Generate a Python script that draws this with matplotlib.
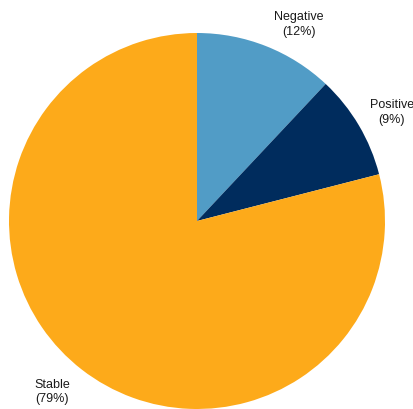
import matplotlib
matplotlib.use("Agg")
import matplotlib.pyplot as plt

categories = ["Negative", "Positive", "Stable"]
shares = [12, 9, 79]
colors = ["#519cc6", "#002c5d", "#fdaa1a"]

fig = plt.figure(figsize=(4.14, 4.09), dpi=100)
# pie centre at (197, 221) px, radius 188 px
ax = fig.add_axes([9 / 414, 0, 376 / 414, 376 / 409])

labels = [f"{c}\n({v}%)" for c, v in zip(categories, shares)]
wedges, texts = ax.pie(
    shares, colors=colors, startangle=90, counterclock=False,
    labels=labels, labeldistance=1.18, radius=1,
    wedgeprops=dict(linewidth=0),
    textprops=dict(fontsize=9, fontfamily="Liberation Sans", color="#1a1a1a"),
    frame=True,
)
ax.set_xlim(-1, 1)
ax.set_ylim(-1, 1)
ax.axis("off")
ax.set_aspect("auto")

# label placement tuned to the reference
label_pos = [(0.543, 1.045), (1.037, 0.577), (-0.771, -0.910)]
for t, p in zip(texts, label_pos):
    t.set_position(p)
    t.set_ha("center")
    t.set_va("center")
    t.set_linespacing(1.3)
    t.set_clip_on(False)
for w in wedges:
    w.set_clip_on(False)

fig.savefig("out.png", dpi=100, facecolor="white")
